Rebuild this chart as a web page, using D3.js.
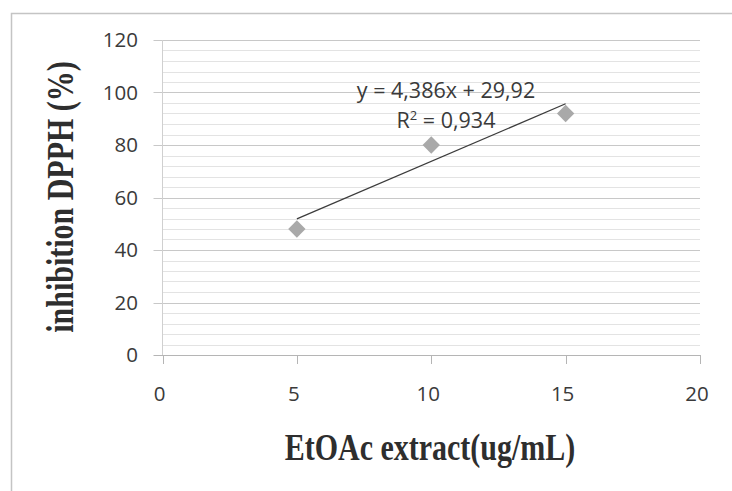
<!DOCTYPE html>
<html>
<head>
<meta charset="utf-8">
<script src="https://cdn.jsdelivr.net/npm/d3@7"></script>
<style>
  body { margin: 0; background: #fff; }
  .tick-label { font-family: "Open Sans", sans-serif; font-size: 20.5px; fill: #3a3a3a; }
  .axis-title { font-family: "Liberation Serif", "Times New Roman", serif; font-weight: bold; font-size: 30px; fill: #2e2e2e; }
  .eq { font-family: "Open Sans", sans-serif; font-size: 21.5px; fill: #3a3a3a; }
</style>
</head>
<body>
<div class="app"></div>
<script>
// values
var concentration = [5, 10, 15];
var inhibition = [48, 80, 92];
var xTicks = [0, 5, 10, 15, 20];
var yTicks = [0, 20, 40, 60, 80, 100, 120];
var yMinor = d3.range(0, 121, 4);
var trendSlope = 4.386;
var trendIntercept = 29.92;
var eqLabel = "y = 4,386x + 29,92";
var r2Label = "0,934";

var width = 732, height = 491;

var svg = d3.select(".app").append("svg").attr("width", width).attr("height", height);

// outer frame (only left and top edges visible in the scan)
svg.append("path").attr("d", "M11.5,491 V13.5 H732")
    .attr("fill", "none").attr("stroke", "#c4c4c4").attr("stroke-width", 1.5);

var x = d3.scaleLinear().domain([0, 20]).range([162.5, 700]);
var y = d3.scaleLinear().domain([0, 120]).range([355, 40]);

// minor gridlines
svg.append("g").selectAll("line").data(yMinor.filter(function(v){ return v % 20 !== 0; })).enter()
    .append("line")
    .attr("x1", x(0)).attr("x2", x(20))
    .attr("y1", function(d){ return Math.round(y(d)) + 0.5; })
    .attr("y2", function(d){ return Math.round(y(d)) + 0.5; })
    .attr("stroke", "#e3e3e3").attr("stroke-width", 1);

// major gridlines with tick stubs to the left
svg.append("g").selectAll("line").data(yTicks).enter()
    .append("line")
    .attr("x1", x(0) - 9).attr("x2", x(20))
    .attr("y1", function(d){ return Math.round(y(d)) + 0.5; })
    .attr("y2", function(d){ return Math.round(y(d)) + 0.5; })
    .attr("stroke", function(d){ return d === 0 ? "#b5b5b5" : "#c8c8c8"; }).attr("stroke-width", 1);

// y axis line
svg.append("line").attr("x1", x(0)).attr("x2", x(0)).attr("y1", y(120)).attr("y2", y(0))
    .attr("stroke", "#d0d0d0");

// x axis tick marks
svg.append("g").selectAll("line").data(xTicks).enter()
    .append("line")
    .attr("x1", function(d){ return Math.round(x(d)) + 0.5; })
    .attr("x2", function(d){ return Math.round(x(d)) + 0.5; })
    .attr("y1", y(0)).attr("y2", y(0) + 9)
    .attr("stroke", "#b5b5b5");

// tick labels
svg.append("g").selectAll("text").data(yTicks).enter()
    .append("text").attr("class", "tick-label")
    .attr("x", 138).attr("y", function(d){ return y(d); })
    .attr("dy", "0.35em").attr("text-anchor", "end")
    .text(function(d){ return d; });

svg.append("g").selectAll("text").data(xTicks).enter()
    .append("text").attr("class", "tick-label")
    .attr("x", function(d){ return x(d) - 3; }).attr("y", 401)
    .attr("text-anchor", "middle")
    .text(function(d){ return d; });

// trendline
var tx0 = d3.min(concentration), tx1 = d3.max(concentration);
svg.append("line")
    .attr("x1", x(tx0)).attr("y1", y(trendSlope * tx0 + trendIntercept))
    .attr("x2", x(tx1)).attr("y2", y(trendSlope * tx1 + trendIntercept))
    .attr("stroke", "#3c3c3c").attr("stroke-width", 1.3);

// diamond markers
var pts = concentration.map(function(c, i){ return [c, inhibition[i]]; });
svg.append("g").selectAll("path").data(pts).enter()
    .append("path")
    .attr("d", d3.symbol(d3.symbolSquare, 150))
    .attr("transform", function(d){ return "translate(" + x(d[0]) + "," + y(d[1]) + ") rotate(45)"; })
    .attr("fill", "#a9a9a9");

// equation labels
svg.append("text").attr("class", "eq").attr("x", 446).attr("y", 98)
    .attr("text-anchor", "middle").text(eqLabel);
var r2 = svg.append("text").attr("class", "eq").attr("x", 446).attr("y", 128)
    .attr("text-anchor", "middle");
r2.append("tspan").text("R");
r2.append("tspan").attr("dy", -8).attr("font-size", "13px").text("2");
r2.append("tspan").attr("dy", 8).text(" = " + r2Label);

// axis titles
svg.append("text").attr("class", "axis-title")
    .attr("transform", "translate(430,460) scale(1,1.25)")
    .attr("text-anchor", "middle")
    .text("EtOAc extract(ug/mL)");

svg.append("text").attr("class", "axis-title")
    .attr("transform", "translate(73,197) rotate(-90) scale(1,1.25)")
    .attr("text-anchor", "middle")
    .text("inhibition DPPH (%)");
</script>
</body>
</html>
